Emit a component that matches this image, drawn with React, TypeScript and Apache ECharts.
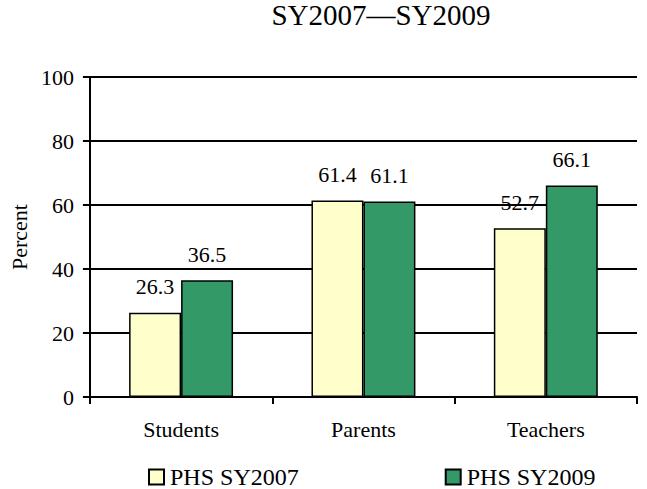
import React, { useEffect, useRef } from "react";
import * as echarts from "echarts";

const categories = ["Students", "Parents", "Teachers"];
const seriesNames = ["PHS SY2007", "PHS SY2009"];
const sy2007 = [26.3, 61.4, 52.7];
const sy2009 = [36.5, 61.1, 66.1];
const titleText = "SY2007\u2014SY2009";
const yAxisName = "Percent";

const FONT = "Liberation Serif";

export default function App() {
  const ref = useRef<HTMLDivElement>(null);
  useEffect(() => {
    if (!ref.current) return;
    const chart = echarts.init(ref.current, undefined, { renderer: "svg" });
    const labelCfg = {
      show: true,
      position: "top",
      distance: 15,
      color: "#000",
      fontFamily: FONT,
      fontWeight: "normal",
      fontSize: 22,
    };
    chart.setOption({
      animation: false,
      backgroundColor: "#fff",
      textStyle: { fontFamily: FONT, color: "#000", fontWeight: "normal" },
      title: {
        text: titleText,
        left: 381,
        top: 0,
        padding: 0,
        textAlign: "center",
        textStyle: { fontFamily: FONT, fontSize: 29, fontWeight: "normal", color: "#000" },
      },
      legend: {
        data: seriesNames,
        top: 465,
        left: 148,
        padding: 0,
        itemGap: 146,
        itemWidth: 15,
        itemHeight: 15,
        icon: "rect",
        itemStyle: { borderColor: "#000", borderWidth: 2 },
        textStyle: { fontFamily: FONT, fontWeight: "normal", fontSize: 24, color: "#000", padding: [0, 0, 0, 1] },
      },
      grid: { left: 88, right: 10, top: 77, bottom: 92, containLabel: false },
      xAxis: {
        type: "category",
        data: categories,
        axisLine: { show: true, lineStyle: { color: "#000", width: 2 } },
        axisTick: { show: true, length: 7, lineStyle: { color: "#000", width: 2 } },
        axisLabel: { fontFamily: FONT, fontWeight: "normal", fontSize: 22, color: "#000", margin: 21 },
      },
      yAxis: {
        type: "value",
        min: 0,
        max: 100,
        interval: 20,
        name: yAxisName,
        nameLocation: "middle",
        nameGap: 47,
        nameTextStyle: { fontFamily: FONT, fontWeight: "normal", fontSize: 22, color: "#000" },
        axisLine: { show: true, lineStyle: { color: "#000", width: 2 } },
        axisTick: { show: true, length: 7, lineStyle: { color: "#000", width: 2 } },
        axisLabel: { fontFamily: FONT, fontWeight: "normal", fontSize: 22, color: "#000", margin: 16 },
        splitLine: { show: true, lineStyle: { color: "#000", width: 2 } },
      },
      series: [
        {
          name: seriesNames[0],
          type: "bar",
          data: sy2007,
          barGap: "0%",
          barCategoryGap: "43%",
          itemStyle: { color: "#FFFFCC", borderColor: "#000", borderWidth: 1.5 },
          label: labelCfg,
        },
        {
          name: seriesNames[1],
          type: "bar",
          data: sy2009,
          barGap: "0%",
          barCategoryGap: "43%",
          itemStyle: { color: "#339966", borderColor: "#000", borderWidth: 1.5 },
          label: labelCfg,
        },
      ],
    });
    return () => chart.dispose();
  }, []);
  return (
    <div
      ref={ref}
      style={{ position: "fixed", left: 0, top: 0, width: 647, height: 489 }}
    />
  );
}
